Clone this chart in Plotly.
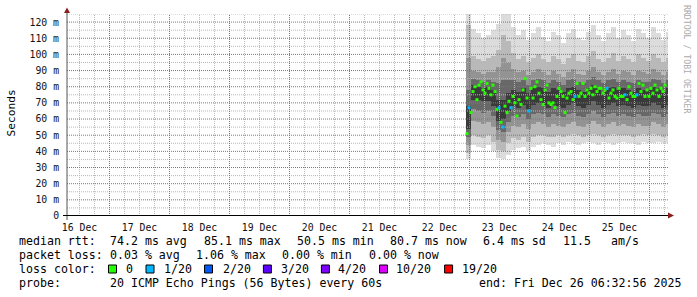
import plotly.graph_objects as go
import pandas as pd

# ---------------- data ----------------
range_start = pd.Timestamp("2025-12-16 07:00:00")
range_end = pd.Timestamp("2025-12-26 07:24:00")

# smoke bands (ms), one value per 2-hour step (sorted-ping percentiles)
smoke_start = pd.Timestamp("2025-12-22 23:36:00")
smoke_step = pd.Timedelta(hours=2)
ping_max = [125, 116, 113, 110, 112, 115, 119, 125, 125, 117, 112, 115, 109, 113, 117, 111, 108, 114, 112, 107, 113,
            116, 110, 109, 114, 118, 112, 108, 113, 117, 110, 115, 112, 108, 116, 113, 110, 117, 113, 109, 114]
ping_p90 = [118, 99, 97, 96, 98, 99, 103, 112, 108, 101, 97, 99, 95, 98, 100, 97, 95, 99, 97, 94, 98,
            100, 96, 95, 99, 102, 97, 95, 98, 101, 96, 99, 97, 95, 100, 98, 96, 100, 98, 95, 98]
ping_p80 = [98, 90, 89, 88, 89, 89, 92, 98, 95, 91, 89, 90, 87, 89, 91, 89, 87, 90, 88, 86, 89,
            91, 88, 87, 90, 92, 89, 87, 89, 91, 88, 90, 89, 87, 90, 89, 88, 91, 89, 87, 89]
ping_p70 = [78, 85, 84, 83, 84, 83, 82, 84, 84, 84, 83, 84, 81, 84, 85, 84, 82, 84, 83, 81, 84,
            85, 83, 82, 84, 86, 84, 82, 84, 85, 83, 84, 83, 82, 84, 83, 83, 85, 84, 82, 84]
ping_p60 = [68, 81, 80, 79, 80, 78, 72, 72, 76, 78, 77, 79, 76, 79, 80, 79, 77, 79, 78, 77, 79,
            80, 78, 77, 79, 81, 79, 77, 79, 80, 78, 79, 78, 77, 79, 78, 78, 80, 79, 77, 79]
ping_p40 = [54, 72, 72, 71, 71, 68, 59, 60, 65, 68, 67, 69, 66, 69, 70, 69, 67, 69, 68, 67, 69,
            70, 68, 67, 69, 71, 69, 67, 69, 70, 68, 69, 68, 67, 69, 68, 68, 70, 69, 67, 69]
ping_p30 = [49, 66, 65, 64, 65, 62, 53, 52, 58, 62, 61, 63, 60, 63, 64, 63, 61, 63, 62, 61, 63,
            64, 62, 61, 63, 65, 63, 61, 63, 64, 62, 63, 62, 61, 63, 62, 62, 64, 63, 61, 63]
ping_p20 = [44, 59, 58, 57, 58, 55, 47, 46, 52, 56, 55, 57, 54, 57, 58, 57, 55, 57, 56, 55, 57,
            58, 56, 55, 57, 59, 57, 55, 57, 58, 56, 57, 56, 55, 57, 56, 56, 58, 57, 55, 57]
ping_p10 = [39, 50, 49, 48, 50, 46, 41, 40, 45, 48, 47, 49, 46, 49, 50, 50, 49, 49, 50, 49, 50,
            51, 50, 49, 50, 51, 50, 49, 50, 51, 50, 50, 50, 49, 50, 51, 50, 51, 50, 49, 50]
ping_min = [35, 44, 43, 42, 44, 40, 36, 35, 38, 41, 42, 43, 40, 43, 44, 45, 44, 43, 45, 44, 46,
            45, 44, 45, 46, 45, 44, 46, 45, 44, 45, 46, 45, 45, 44, 46, 45, 45, 46, 45, 45]

# median rtt (ms), one value per 48-minute step, and lost pings out of 20
median_start = pd.Timestamp("2025-12-22 23:00:00")
median_step = pd.Timedelta(minutes=48)
median_rtt = [51, 67, 64, 77, 80, 72, 81, 83, 78, 76, 82, 79, 75, 81, 77, 66, 67, 58, 55, 68,
              64, 71, 67, 74, 70, 62, 72, 69, 78, 85, 73, 65, 79, 73, 80, 83, 76, 72, 69, 78,
              81, 70, 69, 70, 67, 74, 79, 77, 74, 64, 73, 76, 77, 72, 74, 82, 74, 76, 82, 74,
              78, 76, 79, 75, 80, 77, 79, 79, 76, 78, 79, 73, 76, 78, 74, 73, 79, 74, 74, 75,
              72, 80, 76, 74, 74, 75, 82, 77, 81, 74, 78, 74, 79, 76, 81, 78, 74, 79, 77, 81]
loss_count = [0, 1, 0, 0, 0, 0, 0, 0, 0, 0, 0, 0, 0, 0, 0, 0, 1, 0, 1, 0,
              0, 0, 1, 0, 0, 0, 0, 0, 0, 0, 0, 1, 0, 0, 0, 0, 0, 0, 0, 0,
              0, 0, 0, 0, 0, 0, 0, 0, 0, 0, 0, 0, 0, 0, 1, 0, 0, 0, 0, 0,
              0, 0, 0, 0, 0, 0, 0, 0, 0, 0, 1, 0, 0, 0, 0, 0, 0, 0, 0, 1,
              0, 0, 0, 0, 0, 1, 0, 0, 0, 0, 0, 0, 0, 0, 0, 0, 0, 0, 0, 0]

y_max = 125
y_tick_vals = [0, 10, 20, 30, 40, 50, 60, 70, 80, 90, 100, 110, 120]
y_tick_text = ["0", "10 m", "20 m", "30 m", "40 m", "50 m", "60 m", "70 m", "80 m", "90 m",
               "100 m", "110 m", "120 m"]
y_minor_vals = [5, 15, 25, 35, 45, 55, 65, 75, 85, 95, 105, 115, 125]

loss_labels = ["0", "1/20", "2/20", "3/20", "4/20", "10/20", "19/20"]
loss_thresholds = [0, 1, 2, 3, 4, 10, 19]
loss_colors = ["#26ff00", "#00b8ff", "#0059ff", "#5e00ff", "#7e00ff", "#dd00ff", "#ff0000"]

legend_rtt = ["median rtt:", "74.2 ms avg", "85.1 ms max", "50.5 ms min", "80.7 ms now", "6.4 ms sd", "11.5", "am/s"]
legend_loss = ["packet loss:", "0.03 % avg", "1.06 % max", "0.00 % min", "0.00 % now"]
legend_color_title = "loss color:"
legend_probe = ["probe:", "20 ICMP Echo Pings (56 Bytes) every 60s"]
end_text = "end: Fri Dec 26 06:32:56 2025"

# ---------------- geometry / style ----------------
W, H = 697, 297
L, R, T, B = 67, 668, 14, 216


def px(x):
    return (x - L) / (R - L)


def py(y):
    return (B - y) / (B - T)


MONO = "DejaVu Sans Mono"
GRID = "#b8b8b8"
MGRID = "#e84a4a"
DOT = "1px,1px"
ARROW = "#8b1d1d"

smoke_times = [smoke_start + i * smoke_step for i in range(len(ping_max))]
median_times = [median_start + i * median_step for i in range(len(median_rtt))]
bar_w = smoke_step.total_seconds() * 1000

grid_times = [t for t in pd.date_range("2025-12-16 00:00", "2025-12-26 06:00", freq="6h")
              if range_start <= t <= range_end]
major_x = [t for t in grid_times if t.hour == 0]
minor_x = [t for t in grid_times if t.hour != 0]

fig = go.Figure()

bands = [
    (ping_min, ping_max, "#dcdcdc"),
    (ping_p10, ping_p90, "#b9b9b9"),
    (ping_p20, ping_p80, "#939393"),
    (ping_p30, ping_p70, "#686868"),
    (ping_p40, ping_p60, "#3a3a3a"),
]
for lo, hi, col in bands:
    fig.add_trace(go.Bar(
        x=smoke_times, y=[h - l for l, h in zip(lo, hi)], base=lo, width=bar_w,
        marker=dict(color=col, line=dict(width=0)), hoverinfo="skip", showlegend=False))


def vlines(times):
    xs, ys = [], []
    for t in times:
        xs += [t, t, None]
        ys += [0, y_max, None]
    return xs, ys


def hlines(vals):
    xs, ys = [], []
    for v in vals:
        xs += [range_start, range_end, None]
        ys += [v, v, None]
    return xs, ys


# grid on top of the smoke (as rrdtool draws it)
for gen, vals, col in [(vlines, minor_x, GRID), (hlines, y_minor_vals, GRID),
                       (vlines, major_x, MGRID), (hlines, y_tick_vals[1:], MGRID)]:
    gx, gy = gen(vals)
    fig.add_trace(go.Scatter(x=gx, y=gy, mode="lines", line=dict(color=col, width=1, dash=DOT),
                             hoverinfo="skip", showlegend=False, connectgaps=False))


def loss_color(n):
    c = loss_colors[0]
    for t, col in zip(loss_thresholds, loss_colors):
        if n >= t:
            c = col
    return c


fig.add_trace(go.Scatter(
    x=median_times, y=median_rtt, mode="markers",
    marker=dict(symbol="square", size=3, color=[loss_color(n) for n in loss_count], line=dict(width=0)),
    hoverinfo="skip", showlegend=False))

fig.update_layout(
    width=W, height=H, autosize=False,
    margin=dict(l=L, r=W - R, t=T, b=H - B, pad=0),
    paper_bgcolor="white", plot_bgcolor="white",
    barmode="overlay", bargap=0,
    showlegend=False,
    xaxis=dict(
        type="date", range=[range_start, range_end],
        tickmode="linear", tick0="2025-12-16 00:00:00", dtick=86400000,
        ticklabelmode="period", tickformat="%d %b",
        showgrid=False, ticks="outside", ticklen=2, tickcolor="rgba(0,0,0,0)",
        showline=False, zeroline=False,
        tickfont=dict(family=MONO, size=9.8, color="#111"),
    ),
    yaxis=dict(
        range=[0, y_max], tickmode="array", tickvals=y_tick_vals, ticktext=y_tick_text,
        showgrid=False,
        ticks="outside", ticklen=5, tickcolor="rgba(0,0,0,0)",
        showline=False, zeroline=False,
        tickfont=dict(family=MONO, size=9.8, color="#111"),
    ),
)

shapes = []
# axes
shapes.append(dict(type="line", xref="paper", yref="paper", x0=px(67), x1=px(67), y0=py(220), y1=py(11),
                   line=dict(color="#555555", width=1), layer="above"))
shapes.append(dict(type="line", xref="paper", yref="paper", x0=px(63), x1=px(669), y0=py(215.5), y1=py(215.5),
                   line=dict(color="#000000", width=1), layer="above"))
# arrows
shapes.append(dict(type="path", xref="paper", yref="paper",
                   path=f"M {px(64)} {py(13)} L {px(70)} {py(13)} L {px(67)} {py(7.5)} Z",
                   fillcolor=ARROW, line=dict(width=0), layer="above"))
shapes.append(dict(type="path", xref="paper", yref="paper",
                   path=f"M {px(668)} {py(212.5)} L {px(668)} {py(218.5)} L {px(674)} {py(215.5)} Z",
                   fillcolor=ARROW, line=dict(width=0), layer="above"))

annotations = []


def txt(x, y, s, **kw):
    d = dict(xref="paper", yref="paper", x=px(x), y=py(y), text=s.replace(" ", "\u00a0"),
             showarrow=False, xanchor="left", yanchor="middle",
             font=dict(family=MONO, size=11.6, color="#000"))
    d.update(kw)
    annotations.append(d)


rtt_x = [16.5, 108, 201.8, 294.6, 387.5, 481, 561, 609.4]
for s, x in zip(legend_rtt, rtt_x):
    txt(x, 241, s)
loss_x = [16.5, 108, 194.2, 280.4, 367]
for s, x in zip(legend_loss, loss_x):
    txt(x, 255, s)
txt(16.5, 269, legend_color_title)
probe_x = [16.5, 108]
for s, x in zip(legend_probe, probe_x):
    txt(x, 283, s)
txt(683, 283, end_text, xanchor="right")

box_x = [108.5, 146, 204.5, 263.4, 321.4, 379.5, 444.6]
text_x = [124, 161.6, 220.5, 278.6, 335.7, 393.8, 459.8]
for bx, tx, lab, col in zip(box_x, text_x, loss_labels, loss_colors):
    shapes.append(dict(type="rect", xref="paper", yref="paper", x0=px(bx), x1=px(bx + 8),
                       y0=py(273), y1=py(265), fillcolor=col, line=dict(color="#000", width=1)))
    txt(tx, 269, lab)

# y-axis title
txt(11, 113.5, "Seconds", xanchor="center", textangle=-90, font=dict(family=MONO, size=11.2, color="#000"))
# watermark
txt(687, 59, "RRDTOOL / TOBI OETIKER", xanchor="center", textangle=90,
    font=dict(family=MONO, size=8.2, color="#aaaaaa"))

fig.update_layout(shapes=shapes, annotations=annotations)
fig.write_html("out.html")
